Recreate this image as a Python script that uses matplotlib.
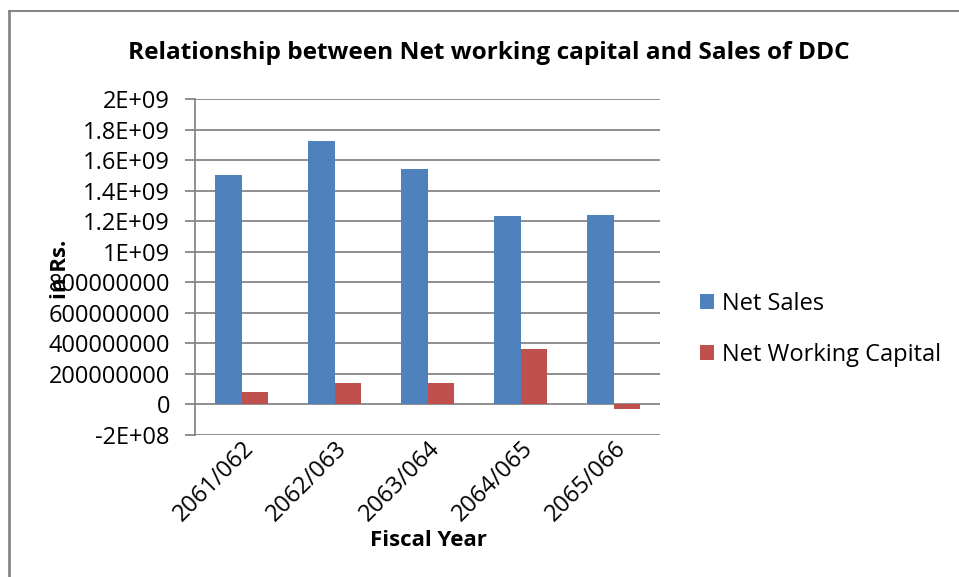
import numpy as np
import matplotlib.pyplot as plt
from matplotlib.lines import Line2D

plt.rcParams["font.family"] = ["Open Sans", "DejaVu Sans"]

# data
years = ["2061/062", "2062/063", "2063/064", "2064/065", "2065/066"]
net_sales = [1.50e9, 1.723e9, 1.54e9, 1.232e9, 1.24e9]
net_wc = [0.081e9, 0.138e9, 0.142e9, 0.361e9, -0.031e9]
yticks = [-2e8, 0, 2e8, 4e8, 6e8, 8e8, 1e9, 1.2e9, 1.4e9, 1.6e9, 1.8e9, 2e9]
ytick_labels = ["-2E+08", "0", "200000000", "400000000", "600000000", "800000000",
                "1E+09", "1.2E+09", "1.4E+09", "1.6E+09", "1.8E+09", "2E+09"]

fig = plt.figure(figsize=(9.59, 5.77), dpi=100, facecolor="w")
ax = fig.add_axes([195 / 959, 1 - 435 / 577, 465 / 959, 336 / 577])

x = np.arange(len(years))
w = 0.28
ax.bar(x - w / 2, net_sales, w, color="#4F81BD", label="Net Sales", zorder=3)
ax.bar(x + w / 2, net_wc, w, color="#C0504D", label="Net Working Capital", zorder=3)

ax.set_xlim(-0.5, len(years) - 0.5)
ax.set_ylim(-2e8, 2e9)
ax.set_yticks(yticks)
ax.set_yticklabels(ytick_labels, fontsize=17)
ax.yaxis.grid(True, color="#868686", linewidth=1.3, zorder=0)
ax.set_xticks(x)
ax.set_xticklabels(years, rotation=45, ha="right", rotation_mode="anchor", fontsize=17)
ax.tick_params(axis="x", length=0, pad=1)
ax.tick_params(axis="y", length=7, color="#868686", width=1.3, pad=11)

for s in ["top", "right", "bottom"]:
    ax.spines[s].set_visible(False)
ax.spines["left"].set_color("#868686")
ax.spines["left"].set_linewidth(1.3)

fig.text(428 / 959, 1 - 540 / 577, "Fiscal Year", fontsize=16, fontweight="bold",
         ha="center", va="center")
fig.text(60 / 959, 1 - 269 / 577, "in Rs.", rotation=90, fontsize=16, fontweight="bold",
         ha="center", va="center")
fig.text(489 / 959, 1 - 53 / 577, "Relationship between Net working capital and Sales of DDC",
         fontsize=17.6, fontweight="bold", ha="center", va="center")

ax.legend(loc="center left", bbox_to_anchor=(1.065, 0.315), frameon=False, fontsize=17,
          handlelength=0.6, handleheight=0.6, labelspacing=1.15, handletextpad=0.35,
          borderaxespad=0)

# chart area border (only top and left visible)
fig.add_artist(Line2D([8.5 / 959, 8.5 / 959], [0, 1 - 10.5 / 577], color="#868686",
                      linewidth=2, transform=fig.transFigure))
fig.add_artist(Line2D([8.5 / 959, 1], [1 - 10.5 / 577, 1 - 10.5 / 577], color="#868686",
                      linewidth=1.5, transform=fig.transFigure))

plt.savefig("out.png", dpi=100)
